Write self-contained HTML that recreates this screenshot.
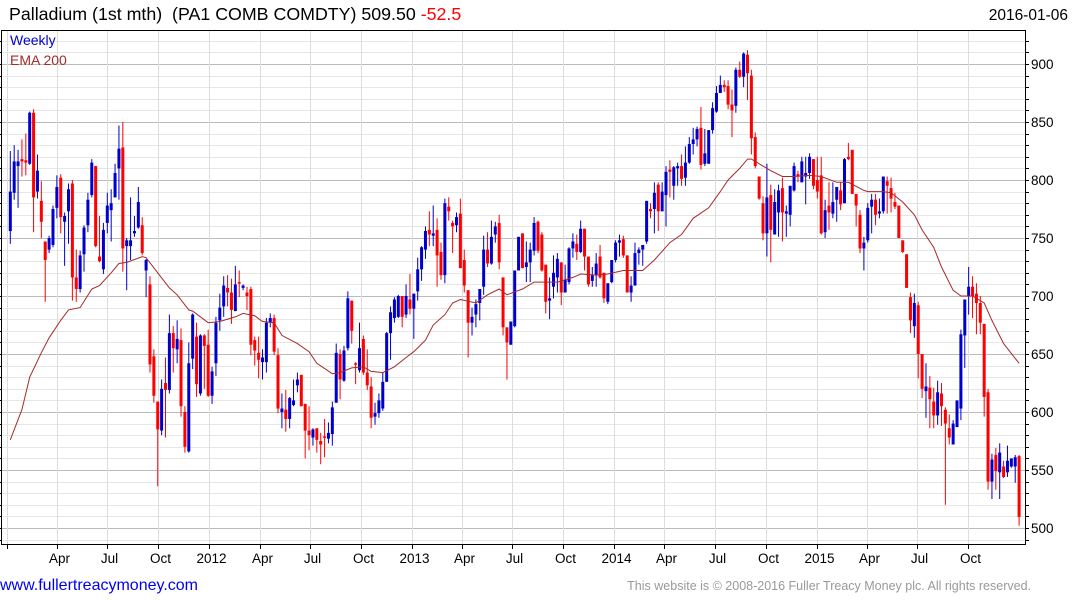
<!DOCTYPE html>
<html><head><meta charset="utf-8"><style>
html,body{margin:0;padding:0;background:#fff;width:1075px;height:600px;overflow:hidden;font-family:"Liberation Sans",Arial,sans-serif}
svg{position:absolute;left:0;top:0}
</style></head><body>
<svg id="chart" width="1075" height="600" xmlns="http://www.w3.org/2000/svg">
<text x="9" y="20" font-size="17.8" fill="#000">Palladium (1st mth)&#160; (PA1 COMB COMDTY) 509.50 <tspan fill="#ff0000">-52.5</tspan></text>
<text x="1068" y="20" font-size="15.5" fill="#000" text-anchor="end">2016-01-06</text>
<g id="grid"></g>
<g id="marks"></g>
<g id="axes"></g>
<text x="10" y="45" font-size="14" fill="#0000cc">Weekly</text>
<text x="10" y="65" font-size="14" fill="#a52a2a">EMA 200</text>
<text x="0" y="590" font-size="16" fill="#0000ee">www.fullertreacymoney.com</text>
<text x="1031" y="590" font-size="12.5" fill="#999" text-anchor="end">This website is © 2008-2016 Fuller Treacy Money plc. All rights reserved.</text>
</svg>
<script>
const opens=[756,789,812,818,817,814,858,790,782,747,740,744,776,802,764,773,797,716,706,736,761,787,812,734,723,763,774,785,810,828,743,743,754,759,761,722,710,648,609,584,625,619,668,654,662,600,566,646,665,616,666,658,614,642,
679,691,707,703,687,712,707,703,706,662,651,643,643,677,681,649,600,602,594,606,623,632,607,584,578,586,575,579,577,581,608,650,627,655,696,642,636,663,634,622,596,599,603,626,668,681,682,700,684,697,689,704,
723,740,757,752,757,738,718,777,763,761,771,731,705,677,684,694,708,740,728,753,763,716,673,658,674,722,754,725,729,739,764,753,727,696,708,716,729,703,712,741,745,738,758,734,713,718,734,720,695,712,731,746,
749,735,703,709,737,740,747,775,775,796,773,787,809,795,810,812,802,815,831,835,845,814,814,843,859,875,882,881,865,864,895,889,908,890,837,803,780,754,787,753,772,793,771,770,791,805,798,803,806,818,800,
804,755,778,771,783,791,780,820,826,788,770,741,748,777,783,771,773,799,793,781,778,748,736,699,674,692,650,618,621,609,597,616,602,586,572,587,603,666,700,708,702,694,676,617,540,563,548,553,548,553,553,562];
const highs=[825,830,826,835,840,859,861,822,799,747,752,778,804,805,772,797,800,740,739,761,789,818,812,769,763,789,792,814,847,850,750,785,769,794,768,732,717,654,609,628,647,684,674,679,672,605,660,685,677,667,667,671,639,682,
702,717,718,715,726,722,710,708,708,665,665,654,681,685,684,655,616,619,613,628,634,632,607,605,586,586,582,594,591,609,659,654,657,704,696,643,677,666,654,630,608,616,634,669,691,699,701,700,710,719,702,733,
743,760,773,778,767,746,784,785,765,772,784,740,705,690,697,706,752,755,765,764,770,716,673,678,722,751,754,747,746,768,765,755,727,716,735,737,729,727,742,754,753,765,758,734,725,737,744,720,711,731,748,753,
752,735,717,746,742,744,782,780,798,798,798,812,817,812,815,822,829,837,845,846,863,844,843,867,881,890,886,886,878,897,902,910,912,895,841,803,786,814,796,792,796,802,778,795,815,808,820,820,823,818,820,
820,783,798,798,794,798,819,832,826,788,774,751,780,788,788,784,803,803,802,789,778,748,736,703,702,695,650,642,631,621,627,625,604,598,593,610,671,697,725,717,711,700,676,620,564,569,573,558,571,560,563,563];
const lows=[745,783,776,803,804,813,755,784,750,695,737,742,767,754,726,745,696,695,703,721,755,785,742,729,719,754,747,785,783,721,705,731,751,758,735,699,634,608,536,580,578,616,634,642,596,565,565,637,613,614,620,613,607,631,
670,682,691,676,687,699,705,688,649,640,629,628,634,673,649,599,586,583,586,605,617,605,560,567,571,565,555,561,573,571,608,611,626,653,659,624,634,632,619,586,589,595,601,626,645,677,681,673,681,684,663,696,
713,732,743,743,708,714,711,765,737,755,724,703,647,666,673,679,701,725,727,746,723,666,628,658,673,722,724,712,712,735,737,721,685,680,698,703,692,703,710,733,731,737,722,708,708,708,715,694,693,711,729,734,
733,703,695,709,727,726,745,767,754,756,773,760,785,783,795,795,795,814,822,829,809,812,814,840,858,875,876,861,837,858,888,880,869,822,810,783,748,734,729,753,751,747,751,760,790,798,798,779,801,792,784,
753,750,757,767,764,774,780,817,788,760,737,722,746,754,761,767,771,771,772,775,750,737,707,668,664,629,612,595,586,586,589,588,520,572,572,587,593,638,684,681,667,667,596,533,525,533,525,543,544,552,539,502];
const closes=[790,816,816,816,815,858,785,808,764,731,750,775,794,768,769,792,716,706,735,759,783,815,743,730,757,778,780,806,827,741,748,748,756,781,737,731,641,614,585,620,619,668,655,663,605,570,642,684,624,666,657,614,635,677,
690,709,703,688,710,711,709,700,658,653,645,647,677,681,652,603,603,594,612,610,628,605,584,580,585,576,572,578,582,604,651,628,653,698,670,641,655,634,623,595,599,610,626,668,686,697,700,682,700,689,702,723,
742,756,753,754,735,718,780,773,760,768,724,709,677,682,693,706,740,728,751,760,729,673,660,678,722,751,724,729,740,763,739,722,695,698,720,732,703,714,741,747,738,758,734,710,718,728,716,698,711,731,746,748,
735,703,709,737,740,744,782,773,789,773,790,807,807,811,812,801,815,831,835,844,813,823,843,862,875,882,880,865,860,895,889,909,892,836,812,784,754,785,757,781,791,772,773,795,812,803,816,806,820,795,790,
754,774,772,781,794,779,818,818,788,778,741,746,776,783,770,773,803,795,784,777,750,738,707,679,694,650,620,622,611,597,617,605,590,578,590,610,667,697,708,700,694,677,613,540,559,549,565,544,558,560,561,509.5];
const emaWeeks=[0,3,5,8,10,13,15,18,21,23,26,28,30,34,35,38,41,43,46,47,51,54,58,60,63,65,68,70,74,77,79,83,85,88,91,93,96,99,102,104,107,109,112,114,116,120,123,126,128,132,135,139,141,145,147,151,154,158,163,166,170,173,176,180,183,185,188,190,191,194,196,199,202,206,209,213,216,220,221,225,227,230,233,235,238,240,243,245,248,251,253,256,260];
const emaValues=[576,602,630,651,664,679,688,690,706,709,720,728,729,734,733,720,707,701,688,687,677,678,682,685,683,678,677,666,659,652,642,633,634,638,639,635,634,639,647,652,662,675,684,694,697,694,701,706,701,706,712,712,712,716,719,718,719,722,722,731,746,753,767,776,790,800,810,818,818,812,808,803,803,804,803,798,798,791,790,790,789,781,770,757,742,725,705,700,700,694,679,659,642];
const yTicks=[500,550,600,650,700,750,800,850,900];
const xTickLabels=["","Apr","Jul","Oct","2012","Apr","Jul","Oct","2013","Apr","Jul","Oct","2014","Apr","Jul","Oct","2015","Apr","Jul","Oct"];
const xTickDays=[-6,84,175,267,359,450,541,633,725,815,906,998,1090,1180,1271,1363,1455,1545,1636,1728];

const L=1,R=1025,T=30,B=544;
const x0=10.3,step=3.88;
function xw(i){return x0+i*step;}
function xd(d){return x0+d/7*step;}
function yp(p){return 64+(900-p)*1.16;}
const NS="http://www.w3.org/2000/svg";
function mk(tag,attrs,parent){const e=document.createElementNS(NS,tag);for(const k in attrs)e.setAttribute(k,attrs[k]);parent.appendChild(e);return e;}
const grid=document.getElementById('grid'),marks=document.getElementById('marks'),axes=document.getElementById('axes');
for(let p=490;p<=920;p+=10){
  const y=Math.round(yp(p))+0.5;
  const major=p%50===0;
  const g=mk('line',{x1:L,x2:R,y1:y,y2:y,stroke:major?'#bbbbbb':'#e6e6e6','stroke-width':1},grid);
  
  
  const t=mk('line',{x1:R,x2:R+4,y1:y,y2:y,stroke:'#000','stroke-width':1},axes);
  
  
  const t2=mk('line',{x1:L-4,x2:L,y1:y,y2:y,stroke:'#000','stroke-width':1},axes);
  
  
}
yTicks.forEach(p=>{
  const t=mk('text',{x:1031,y:yp(p)+5,'font-size':13.5,fill:'#000'},axes);
  t.textContent=p;
  
  
});
xTickDays.forEach((d,i)=>{
  const x=Math.round(xd(d))+0.5;
  const g=mk('line',{x1:x,x2:x,y1:T,y2:B,stroke:'#dddddd','stroke-width':1},grid);
  
  
  const t=mk('line',{x1:x,x2:x,y1:B,y2:B+5,stroke:'#000','stroke-width':1},axes);
  
  
  if(xTickLabels[i]){
    const lb=mk('text',{x:x+2,y:563,'font-size':13.5,fill:'#000','text-anchor':'middle'},axes);
    lb.textContent=xTickLabels[i];
    
    
  }
});
const fr=mk('path',{d:`M${L+0.5} ${T}V${B+0.5}H${R+0.5}V${T}M${L} ${T+0.5}H${R+1}`,fill:'none',stroke:'#000','stroke-width':1},axes);


for(let i=0;i<closes.length;i++){
  const o=opens[i],c=closes[i],h=highs[i],l=lows[i];
  const up=c>=o, col=up?'#0000cc':'#ff0000';
  const x=xw(i);
  const w=mk('line',{x1:x,x2:x,y1:yp(Math.max(h,o,c)),y2:yp(Math.min(l,o,c)),stroke:col,'stroke-width':1},marks);
  
  
  const top=yp(Math.max(o,c)),bot=yp(Math.min(o,c));
  const b=mk('rect',{x:x-1.5,y:top,width:3,height:Math.max(1.5,bot-top),fill:col},marks);
  
  
}
let d='';
emaWeeks.forEach((wk,i)=>{d+=(i?'L':'M')+xw(wk).toFixed(1)+' '+yp(emaValues[i]).toFixed(1);});
const ema=mk('path',{d:d,fill:'none',stroke:'#a52a2a','stroke-width':1},marks);


</script>
</body></html>
